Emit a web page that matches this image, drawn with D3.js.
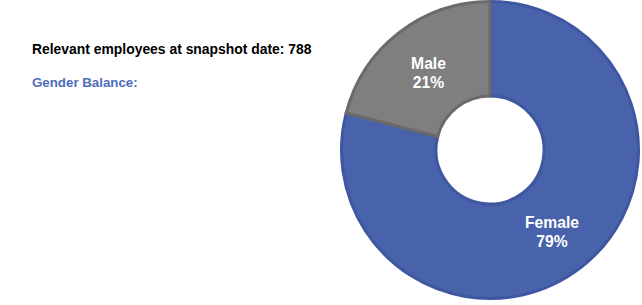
<!DOCTYPE html>
<html><head><meta charset="utf-8">
<script src="https://cdn.jsdelivr.net/npm/d3@7"></script>
<style>body{margin:0;background:#fff}svg{display:block}text{font-family:"Liberation Sans",Arial,sans-serif;font-weight:bold}</style>
</head><body>
<svg id="c" width="642" height="305"></svg>
<script>
const categories = ["Female", "Male"];
const values = [79, 21];
const labels = ["79%", "21%"];
const colors = ["#4862AB", "#7F7F7F"];
const strokes = ["#3E57A0", "#6A6A6A"];
const svg = d3.select("#c");
svg.append("text").attr("x", 32).attr("y", 54).attr("font-size", 13.9).attr("fill", "#000")
  .text("Relevant employees at snapshot date: 788");
svg.append("text").attr("x", 32).attr("y", 87).attr("font-size", 13.3).attr("fill", "#4F6DBA")
  .text("Gender Balance:");
const cx = 490, cy = 150, R = 148.5, r = 54;
const pie = d3.pie().sort(null).value(d => d)(values);
const arc = d3.arc().innerRadius(r).outerRadius(R);
const g = svg.append("g").attr("transform", `translate(${cx},${cy})`);
g.selectAll("path").data(pie).join("path").attr("d", arc)
  .attr("fill", (d, i) => colors[i]).attr("stroke", (d, i) => strokes[i]).attr("stroke-width", 3);
const lab = [[62, 78], [-61.5, -81]];
pie.forEach((d, i) => {
  const t = g.append("text").attr("text-anchor", "middle").attr("fill", "#fff").attr("font-size", 15.7)
    .attr("transform", `translate(${lab[i][0]},${lab[i][1]})`);
  t.append("tspan").attr("x", 0).attr("y", 0).text(categories[i]);
  t.append("tspan").attr("x", 0).attr("y", 18.5).text(labels[i]);
});
</script>
</body></html>
